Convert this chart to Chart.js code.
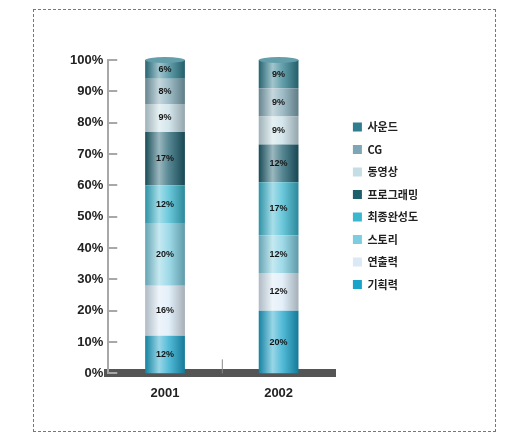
<!DOCTYPE html>
<html>
<head>
<meta charset="utf-8">
<script src="https://cdn.jsdelivr.net/npm/chart.js@4.4.1/dist/chart.umd.min.js"></script>
<style>
  html, body { margin: 0; padding: 0; background: #fff; }
  #wrap { position: relative; width: 507px; height: 437px; }
  #frame { position: absolute; left: 33px; top: 9px; width: 461px; height: 421px; border: 1px dashed #777; pointer-events: none; }
  canvas { position: absolute; left: 0; top: 0; }
</style>
</head>
<body>
<div id="wrap">
  <canvas id="chart" width="507" height="437"></canvas>
  <div id="frame"></div>
</div>
<script>
// categories (x) and series, bottom segment first
const YEARS = ['2001', '2002'];
const SERIES = ['기획력', '연출력', '스토리', '최종완성도', '프로그래밍', '동영상', 'CG', '사운드'];
const SHARE_2001 = [12, 16, 20, 12, 17, 9, 8, 6];
const SHARE_2002 = [20, 12, 12, 17, 12, 9, 9, 9];
const COLORS = ['#1aa3c9', '#dae9f5', '#7dcde0', '#3ab6cf', '#1e5f6e', '#c5dde5', '#7fa6b4', '#2f7d8f'];

const FONT = "'Liberation Sans', Arial, sans-serif";
const KR_FONT = "'Noto Sans CJK KR', sans-serif";
const LEGEND_GAP = 6;

function mix(hex, t) {
  const n = parseInt(hex.slice(1), 16);
  const r = n >> 16, g = (n >> 8) & 255, b = n & 255;
  const f = c => Math.round(t > 0 ? c + (255 - c) * t : c * (1 + t));
  return `rgb(${f(r)},${f(g)},${f(b)})`;
}

// horizontal shading so the stacks look like cylinders
function cylinder(c, base) {
  const chart = c.chart;
  if (!chart.chartArea || c.type !== 'data') return base;
  const xs = chart.scales.x;
  const cx = xs.getPixelForValue(c.dataIndex);
  const half = xs.width / YEARS.length * 0.35 / 2;
  const g = chart.ctx.createLinearGradient(cx - half, 0, cx + half, 0);
  g.addColorStop(0, mix(base, -0.2));
  g.addColorStop(0.35, mix(base, 0.55));
  g.addColorStop(0.6, mix(base, 0.25));
  g.addColorStop(1, mix(base, -0.25));
  return g;
}

const decor = {
  id: 'decor',
  // leave a little air between plot and legend
  afterLayout(chart) {
    const x = chart.scales.x;
    x.right -= LEGEND_GAP; x.width -= LEGEND_GAP; x.configure();
    chart.chartArea.right -= LEGEND_GAP; chart.chartArea.width -= LEGEND_GAP;
  },
  beforeDatasetsDraw(chart) {
    const { ctx, scales: { x, y }, chartArea } = chart;
    ctx.save();
    ctx.strokeStyle = '#a8a8a8';
    ctx.lineWidth = 2;
    y.ticks.forEach(t => {
      const py = Math.round(y.getPixelForValue(t.value));
      ctx.beginPath(); ctx.moveTo(chartArea.left, py); ctx.lineTo(chartArea.left + 9, py); ctx.stroke();
    });
    const mid = (x.getPixelForValue(0) + x.getPixelForValue(1)) / 2;
    ctx.strokeStyle = '#888'; ctx.lineWidth = 1;
    ctx.beginPath(); ctx.moveTo(mid + 0.5, chartArea.bottom); ctx.lineTo(mid + 0.5, chartArea.bottom - 14); ctx.stroke();
    ctx.restore();
  },
  afterDatasetsDraw(chart) {
    const { ctx } = chart;
    ctx.save();
    // cylinder caps
    const top = chart.getDatasetMeta(SERIES.length - 1);
    top.data.forEach(el => {
      ctx.fillStyle = mix(COLORS[SERIES.length - 1], 0.25);
      ctx.beginPath(); ctx.ellipse(el.x, el.y, el.width / 2, 3, 0, 0, Math.PI * 2); ctx.fill();
    });
    // segment labels
    ctx.font = `bold 9px ${FONT}`;
    ctx.fillStyle = '#151515';
    ctx.textAlign = 'center';
    ctx.textBaseline = 'middle';
    chart.data.datasets.forEach((ds, i) => {
      chart.getDatasetMeta(i).data.forEach((el, j) => {
        ctx.fillText(ds.data[j] + '%', el.x, (el.y + el.base) / 2);
      });
    });
    ctx.restore();
  }
};

new Chart(document.getElementById('chart'), {
  type: 'bar',
  data: {
    labels: YEARS,
    datasets: SERIES.map((name, i) => ({
      label: name,
      data: [SHARE_2001[i], SHARE_2002[i]],
      backgroundColor: c => cylinder(c, COLORS[i]),
      borderWidth: 0,
      barPercentage: 0.35,
      categoryPercentage: 1
    }))
  },
  options: {
    responsive: false,
    animation: false,
    layout: { padding: { left: 65, top: 60, right: 79, bottom: 24 } },
    plugins: {
      tooltip: { enabled: false },
      legend: {
        position: 'right',
        fullSize: false,
        reverse: true,
        align: 'start',
        // empty title only pushes the list down
        title: { display: true, text: '', font: { size: 10 }, padding: { top: 38, bottom: 0 } },
        labels: {
          boxWidth: 9, boxHeight: 9, padding: 11.5, color: '#222',
          font: { family: KR_FONT, size: 11, weight: 'bold' },
          generateLabels: chart => Chart.defaults.plugins.legend.labels.generateLabels(chart).map(l => ({
            ...l, fillStyle: COLORS[l.datasetIndex], strokeStyle: COLORS[l.datasetIndex], lineWidth: 0
          }))
        }
      }
    },
    scales: {
      x: {
        stacked: true,
        grid: { display: false, drawTicks: false },
        border: { display: true, color: '#555', width: 8 },
        ticks: { padding: 12, color: '#222', font: { family: FONT, size: 13, weight: 'bold' } }
      },
      y: {
        stacked: true,
        min: 0, max: 100,
        grid: { display: false, drawTicks: false },
        border: { display: true, color: '#a8a8a8', width: 2 },
        ticks: { stepSize: 10, padding: 5, color: '#222', callback: v => v + '%', font: { family: FONT, size: 13, weight: 'bold' } }
      }
    }
  },
  plugins: [decor]
});
</script>
</body>
</html>
